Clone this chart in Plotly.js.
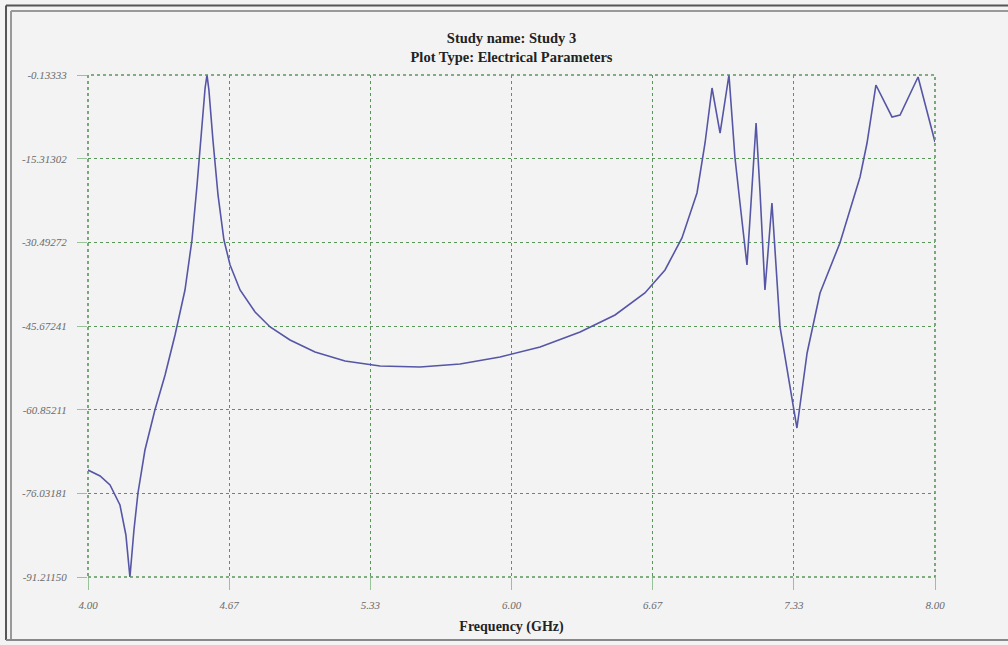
<!DOCTYPE html>
<html>
<head>
<meta charset="utf-8">
<script src="https://cdn.plot.ly/plotly-3.0.1.min.js"></script>
<style>html,body{margin:0;padding:0;background:#f3f3f3;}#chart{width:1008px;height:645px;}</style>
</head>
<body>
<div id="chart"></div>
<script>
const freq = [4.000,4.057,4.104,4.151,4.179,4.198,4.217,4.236,4.269,4.316,4.364,4.411,4.458,4.491,4.515,4.538,4.553,4.562,4.571,4.590,4.614,4.642,4.671,4.718,4.789,4.860,4.954,5.072,5.214,5.379,5.568,5.757,5.946,6.135,6.324,6.489,6.630,6.725,6.805,6.876,6.914,6.947,6.985,7.027,7.055,7.079,7.112,7.126,7.155,7.174,7.197,7.230,7.268,7.348,7.396,7.457,7.551,7.646,7.679,7.721,7.797,7.835,7.920,8.000];
const value = [-71.80,-72.88,-74.52,-78.15,-83.59,-91.21,-82.68,-75.97,-68.17,-60.91,-54.56,-47.30,-39.14,-30.07,-20.09,-9.20,-2.49,-0.13,-2.85,-11.93,-21.90,-30.07,-34.60,-39.14,-43.13,-45.85,-48.21,-50.39,-52.02,-52.93,-53.11,-52.56,-51.30,-49.48,-46.76,-43.67,-39.68,-35.51,-29.70,-21.54,-12.47,-2.49,-10.66,-0.13,-15.01,-23.36,-34.60,-26.44,-8.84,-21.54,-39.14,-23.36,-45.85,-64.18,-50.57,-39.68,-30.61,-18.64,-12.47,-1.95,-7.75,-7.39,-0.50,-12.29];
const xTickVals = [4.0, 4.6667, 5.3333, 6.0, 6.6667, 7.3333, 8.0];
const xTickText = ["4.00","4.67","5.33","6.00","6.67","7.33","8.00"];
const yTickVals = [-0.13333,-15.31302,-30.49272,-45.67241,-60.85211,-76.03181,-91.21150];
const yTickText = ["-0.13333","-15.31302","-30.49272","-45.67241","-60.85211","-76.03181","-91.21150"];

const green = '#5a965a';
const tickFont = {family:'Liberation Serif, serif', size:11, color:'#6a6a6a', style:'italic'};

const trace = {
  x: freq, y: value, type:'scatter', mode:'lines',
  line:{color:'#5656a6', width:1.6}, hoverinfo:'x+y'
};

const layout = {
  width:1008, height:645,
  margin:{l:88, r:73, t:75, b:68},
  paper_bgcolor:'#f3f3f3', plot_bgcolor:'#f3f3f3',
  showlegend:false,
  title:{
    text:'<b>Study name: Study 3</b><br><b>Plot Type: Electrical Parameters</b>',
    font:{family:'Liberation Serif, serif', size:14.5, color:'#222'},
    x:0.5, xanchor:'center', xref:'paper', y:0.933, yanchor:'middle'
  },
  xaxis:{
    range:[4,8], tickvals:xTickVals, ticktext:xTickText,
    showgrid:true, gridcolor:green, griddash:'dot', gridwidth:1,
    zeroline:false, showline:false,
    ticks:'outside', ticklen:12, tickcolor:'#9ac29a', tickwidth:1,
    tickfont:tickFont, ticklabelstandoff:6,
    title:{text:'<b>Frequency (GHz)</b>', font:{family:'Liberation Serif, serif', size:14, color:'#222'}, standoff:10}
  },
  yaxis:{
    range:[-91.2115,-0.13333], tickvals:yTickVals, ticktext:yTickText,
    showgrid:true, gridcolor:green, griddash:'dot', gridwidth:1,
    zeroline:false, showline:false,
    ticks:'outside', ticklen:10, tickcolor:'#9ac29a', tickwidth:1,
    tickfont:tickFont, ticklabelstandoff:8
  },
  shapes:[
    {type:'rect', xref:'paper', yref:'paper', x0:0, x1:1, y0:0, y1:1, line:{color:green, width:1.6, dash:'dot'}},
    {type:'line', xref:'paper', yref:'paper', x0:-0.0968, x1:-0.0968, y0:-0.1255, y1:1.1384, line:{color:'#555', width:2}},
    {type:'line', xref:'paper', yref:'paper', x0:-0.0909, x1:-0.0909, y0:-0.1255, y1:1.1275, line:{color:'#999', width:2}},
    {type:'line', xref:'paper', yref:'paper', x0:-0.0968, x1:1.1, y0:1.1384, y1:1.1384, line:{color:'#555', width:2}},
    {type:'line', xref:'paper', yref:'paper', x0:-0.0909, x1:1.1, y0:1.1275, y1:1.1275, line:{color:'#999', width:2}},
    {type:'line', xref:'paper', yref:'paper', x0:-0.0968, x1:1.1, y0:-0.1255, y1:-0.1255, line:{color:'#888', width:2}}
  ]
};

Plotly.newPlot('chart', [trace], layout, {displayModeBar:false, staticPlot:true});
</script>
</body>
</html>
